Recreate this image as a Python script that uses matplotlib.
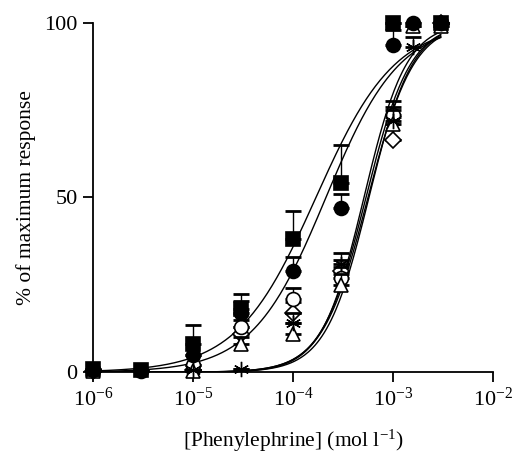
import matplotlib
matplotlib.use("Agg")
import matplotlib.pyplot as plt
import numpy as np

plt.rcParams['font.family'] = ['Liberation Serif', 'DejaVu Serif']
plt.rcParams['mathtext.fontset'] = 'custom'
plt.rcParams['mathtext.rm'] = 'Liberation Serif'
plt.rcParams['mathtext.default'] = 'regular'

# concentrations (mol l-1) and responses (% of maximum) per group
x_sq = [1e-6, 3e-6, 1e-5, 3e-5, 1e-4, 3e-4, 1e-3, 3e-3]
y_sq = [0.8, 0.5, 8, 18, 38, 54, 100, 100]
e_sq = [0, 0, 5.5, 4.5, 8, 11, 0, 0]

x_fc = [1e-6, 3e-6, 1e-5, 3e-5, 1e-4, 3e-4, 1e-3, 1.6e-3, 3e-3]
y_fc = [0.5, 0.3, 5, 17, 29, 47, 93.5, 100, 100]
e_fc = [0, 0, 0, 3.5, 4, 4, 4.5, 0, 0]

x_oc = [1e-6, 1e-5, 3e-5, 1e-4, 3e-4, 1e-3, 3e-3]
y_oc = [0.5, 2, 13, 21, 27, 73.5, 100]
e_oc = [0, 0, 2, 3, 3, 4, 0]

x_tr = [1e-6, 1e-5, 3e-5, 1e-4, 3e-4, 1e-3, 1.6e-3, 3e-3]
y_tr = [0.2, 0.3, 8, 11, 25, 71, 99, 99]
e_tr = [0, 0, 2, 3, 3, 4, 0, 0]

x_di = [1e-6, 1e-5, 3e-5, 1e-4, 3e-4, 1e-3, 3e-3]
y_di = [0.3, 0.5, 11, 17, 29, 66.5, 100]
e_di = [0, 0, 2, 3, 3, 6.5, 0]

x_st = [1e-6, 1e-5, 3e-5, 1e-4, 3e-4, 1e-3, 1.6e-3, 3e-3]
y_st = [0.5, 0.5, 1, 14, 31, 72, 93, 100]
e_st = [0, 0, 0, 3, 3, 4, 3, 0]

# fitted Hill curves: log EC50 and slope per group
fit_logec50 = [-3.77, -3.67, -3.24, -3.27, -3.25, -3.29]
fit_slope = [1.1, 1.18, 2.0, 1.95, 1.9, 2.05]

# drawn back to front
series = [
    (x_di, y_di, e_di, dict(marker='D', mfc='white', mec='black', ms=8)),
    (x_oc, y_oc, e_oc, dict(marker='o', mfc='white', mec='black')),
    (x_tr, y_tr, e_tr, dict(marker='^', mfc='white', mec='black')),
    (x_st, y_st, e_st, dict(marker=(6, 2, 0), mfc='black', mec='black', mew=1.0, ms=11)),
    (x_fc, y_fc, e_fc, dict(marker='o', mfc='black', mec='black')),
    (x_sq, y_sq, e_sq, dict(marker='s', mfc='black', mec='black')),
]

fig = plt.figure(figsize=(5.25, 4.55), dpi=100)
ax = fig.add_axes([0.177, 0.182, 0.762, 0.768])

xc = np.logspace(-6, np.log10(3e-3), 300)
for lec, n in zip(fit_logec50, fit_slope):
    yc = 100 / (1 + 10 ** ((lec - np.log10(xc)) * n))
    ax.plot(xc, yc, color='black', lw=1.0, zorder=2)

for i, (xs, ys, es, st) in enumerate(series):
    ax.errorbar(xs, ys, yerr=[np.zeros(len(es)), es], fmt='none', ecolor='black',
                elinewidth=1.0, capsize=6, capthick=2, zorder=3 + i, clip_on=False)
    style = dict(ms=10, mew=1.2, ls='none')
    style.update(st)
    ax.plot(xs, ys, zorder=3.5 + i, clip_on=False, **style)

ax.set_xscale('log')
ax.set_xlim(1e-6, 1e-2)
ax.set_ylim(0, 100)
ax.set_yticks([0, 50, 100])
ax.set_xticks([1e-6, 1e-5, 1e-4, 1e-3, 1e-2])
ax.xaxis.set_minor_locator(matplotlib.ticker.NullLocator())
ax.spines['top'].set_visible(False)
ax.spines['right'].set_visible(False)
for s in ('left', 'bottom'):
    ax.spines[s].set_linewidth(1.3)
ax.tick_params(direction='out', length=7, width=1.3, labelsize=16, pad=4)
ax.set_xlabel('[Phenylephrine] (mol l$^{-1}$)', fontsize=15.5, labelpad=12)
ax.set_ylabel('% of maximum response', fontsize=15.5, labelpad=6)

fig.savefig('out.png', dpi=100)
